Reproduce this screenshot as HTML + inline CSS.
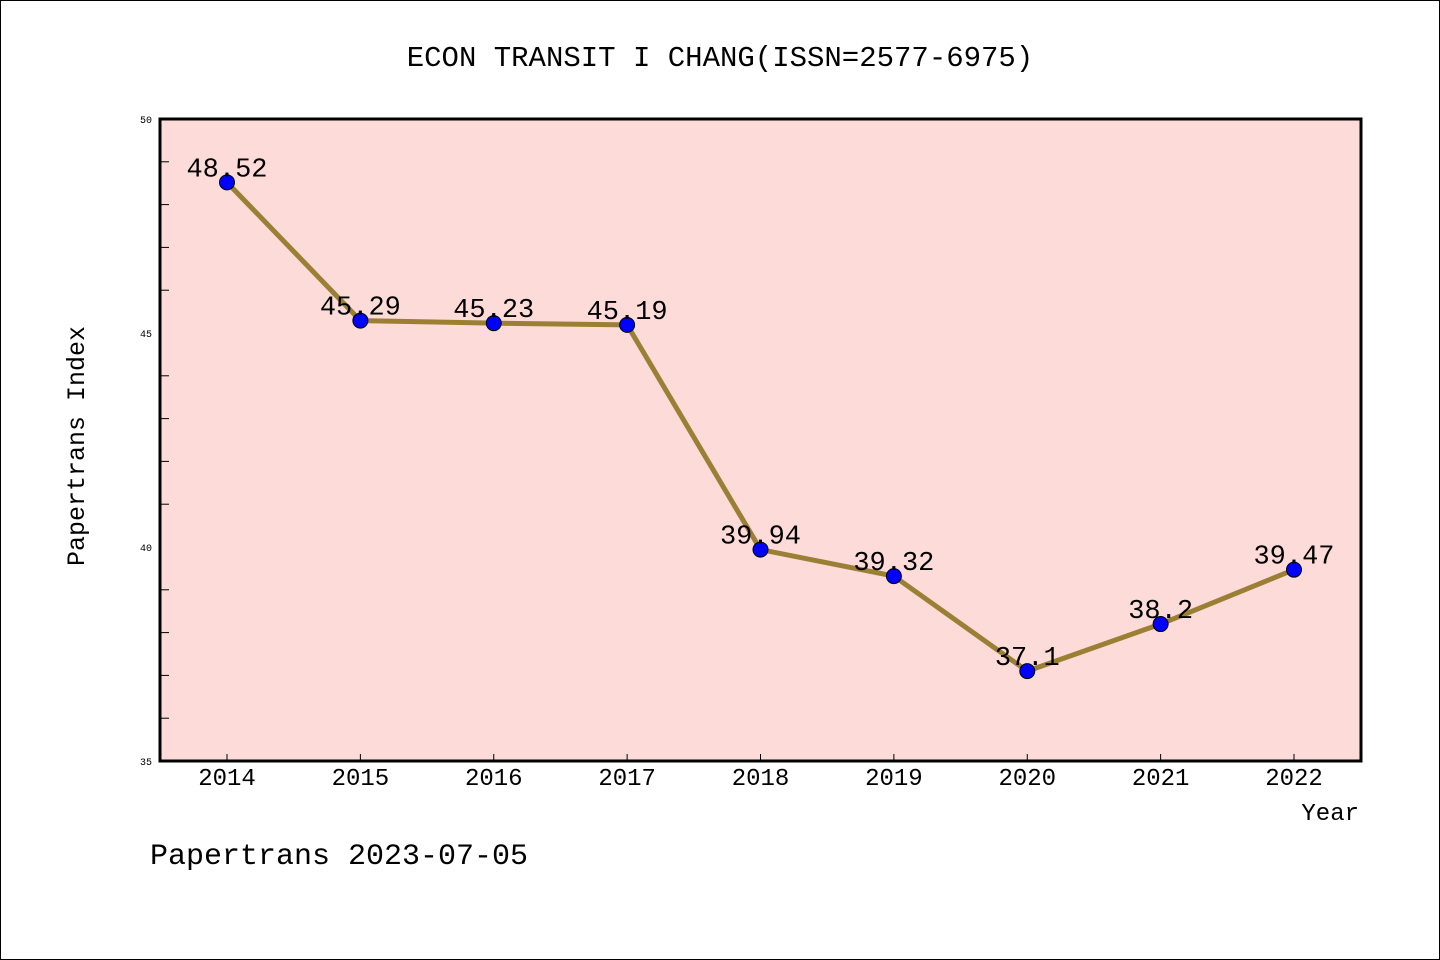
<!DOCTYPE html>
<html><head><meta charset="utf-8"><style>
html,body{margin:0;padding:0;background:#fff}
svg{display:block}
text{font-family:"Liberation Mono","DejaVu Sans Mono",monospace;fill:#000}
</style></head><body>
<svg id="chart" width="1440" height="960" xmlns="http://www.w3.org/2000/svg">
<rect x="0.5" y="0.5" width="1439" height="959" fill="#fff" stroke="#000" stroke-width="1"/>
<text x="720" y="66" font-size="29" text-anchor="middle">ECON TRANSIT I CHANG(ISSN=2577-6975)</text>
<rect x="160" y="119" width="1201" height="642" fill="#fddbd8"/>
<g id="axes"></g>
<g id="marks"></g>
<rect x="160" y="119" width="1201" height="642" fill="none" stroke="#000" stroke-width="3"/>
<text transform="translate(84,446) rotate(-90)" font-size="25" text-anchor="middle">Papertrans Index</text>
<text x="1359" y="820" font-size="24" text-anchor="end">Year</text>
<text x="150" y="864" font-size="30">Papertrans 2023-07-05</text>
</svg>
<script>
const years = [2014,2015,2016,2017,2018,2019,2020,2021,2022];
const values = [48.52,45.29,45.23,45.19,39.94,39.32,37.1,38.2,39.47];
const labels = ["48.52","45.29","45.23","45.19","39.94","39.32","37.1","38.2","39.47"];
const yTicks = [35,40,45,50];
const NS="http://www.w3.org/2000/svg";
function x(yr){return 227+(yr-2014)*(1294-227)/8;}
function y(v){return 761-(v-35)*(642/15);}
function mk(tag,attrs,parent){const e=document.createElementNS(NS,tag);for(const k in attrs)e.setAttribute(k,attrs[k]);parent.appendChild(e);return e;}
const axes=document.getElementById('axes'), marks=document.getElementById('marks');
yTicks.forEach(t=>{
  const e=mk('text',{x:152,y:y(t)+4,'font-size':10,'text-anchor':'end'},axes);
  
  
  e.textContent=t;
});
for(let v=36;v<50;v++){
  if(v%5===0)continue;
  const l=mk('line',{x1:160,x2:169,y1:y(v),y2:y(v),stroke:'#000','stroke-width':1},axes);
  
  
}
years.forEach(yr=>{
  const l=mk('line',{x1:x(yr),x2:x(yr),y1:761,y2:754,stroke:'#000','stroke-width':1},axes);
  
  
  const t=mk('text',{x:x(yr),y:785,'font-size':24,'text-anchor':'middle'},axes);
  
  
  t.textContent=yr;
});
const pl=mk('polyline',{points:years.map((yr,i)=>x(yr)+','+y(values[i])).join(' '),fill:'none',stroke:'#9a7f35','stroke-width':5,'stroke-linejoin':'round'},marks);


years.forEach((yr,i)=>{
  const c=mk('circle',{cx:x(yr),cy:y(values[i]),r:7.5,fill:'#0000ff',stroke:'#000','stroke-width':1},marks);
  
  
  const t=mk('text',{x:x(yr),y:y(values[i])-6,'font-size':27,'text-anchor':'middle'},marks);
  
  
  t.textContent=labels[i];
});
</script>
</body></html>
